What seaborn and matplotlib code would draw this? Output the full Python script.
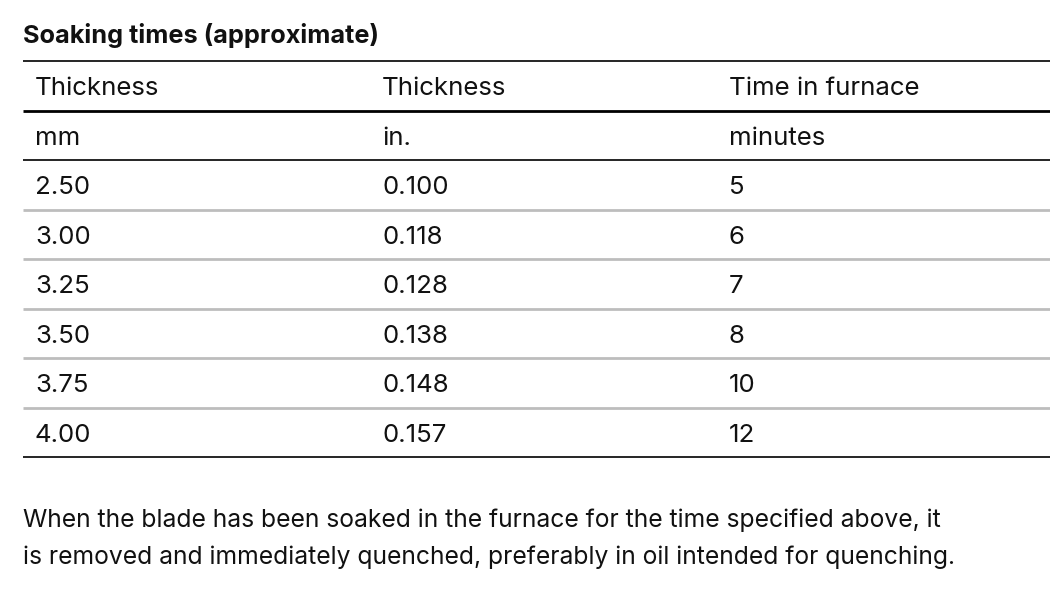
import matplotlib
matplotlib.use("Agg")
import matplotlib.pyplot as plt
import seaborn as sns
import pandas as pd

# table content
title = "Soaking times (approximate)"
headers = ["Thickness", "Thickness", "Time in furnace"]
units = ["mm", "in.", "minutes"]
thickness_mm = ["2.50", "3.00", "3.25", "3.50", "3.75", "4.00"]
thickness_in = ["0.100", "0.118", "0.128", "0.138", "0.148", "0.157"]
time_min = ["5", "6", "7", "8", "10", "12"]
note = ("When the blade has been soaked in the furnace for the time specified above, it\n"
        "is removed and immediately quenched, preferably in oil intended for quenching.")

df = pd.DataFrame({"mm": thickness_mm, "in": thickness_in, "min": time_min})

sns.set_theme(style="white")
plt.rcParams['font.family'] = ['Inter', 'DejaVu Sans']

fig = plt.figure(figsize=(10.5, 5.9), dpi=100)
ax = fig.add_axes([0, 0, 1, 1])
ax.set_xlim(0, 1050)
ax.set_ylim(590, 0)
ax.axis("off")

txt = "#111111"
fs = 18.6
col_x = [35, 382, 729]
top = 61
row_h = 49.5

ax.text(23, 35, title, fontsize=18.2, fontweight="bold", color=txt, va="center")

rows = [headers, units] + df.values.tolist()
for i, row in enumerate(rows):
    yc = top + row_h * i + row_h / 2 + 3
    for x, val in zip(col_x, row):
        ax.text(x, yc, val, fontsize=fs, color=txt, va="center")

# rules between rows
n = len(rows)
for i in range(n + 1):
    y = top + row_h * i
    if i == 0 or i == 2 or i == n:
        ax.hlines(y, 23, 1050, color="black", lw=1.2)
    elif i == 1:
        ax.hlines(y, 23, 1050, color="black", lw=2.0)
    else:
        ax.hlines(y, 23, 1050, color="#bdbdbd", lw=2.0)

ax.text(23, 539, note, fontsize=17.75, color=txt, va="center", linespacing=1.74)

fig.savefig("out.png", dpi=100)
